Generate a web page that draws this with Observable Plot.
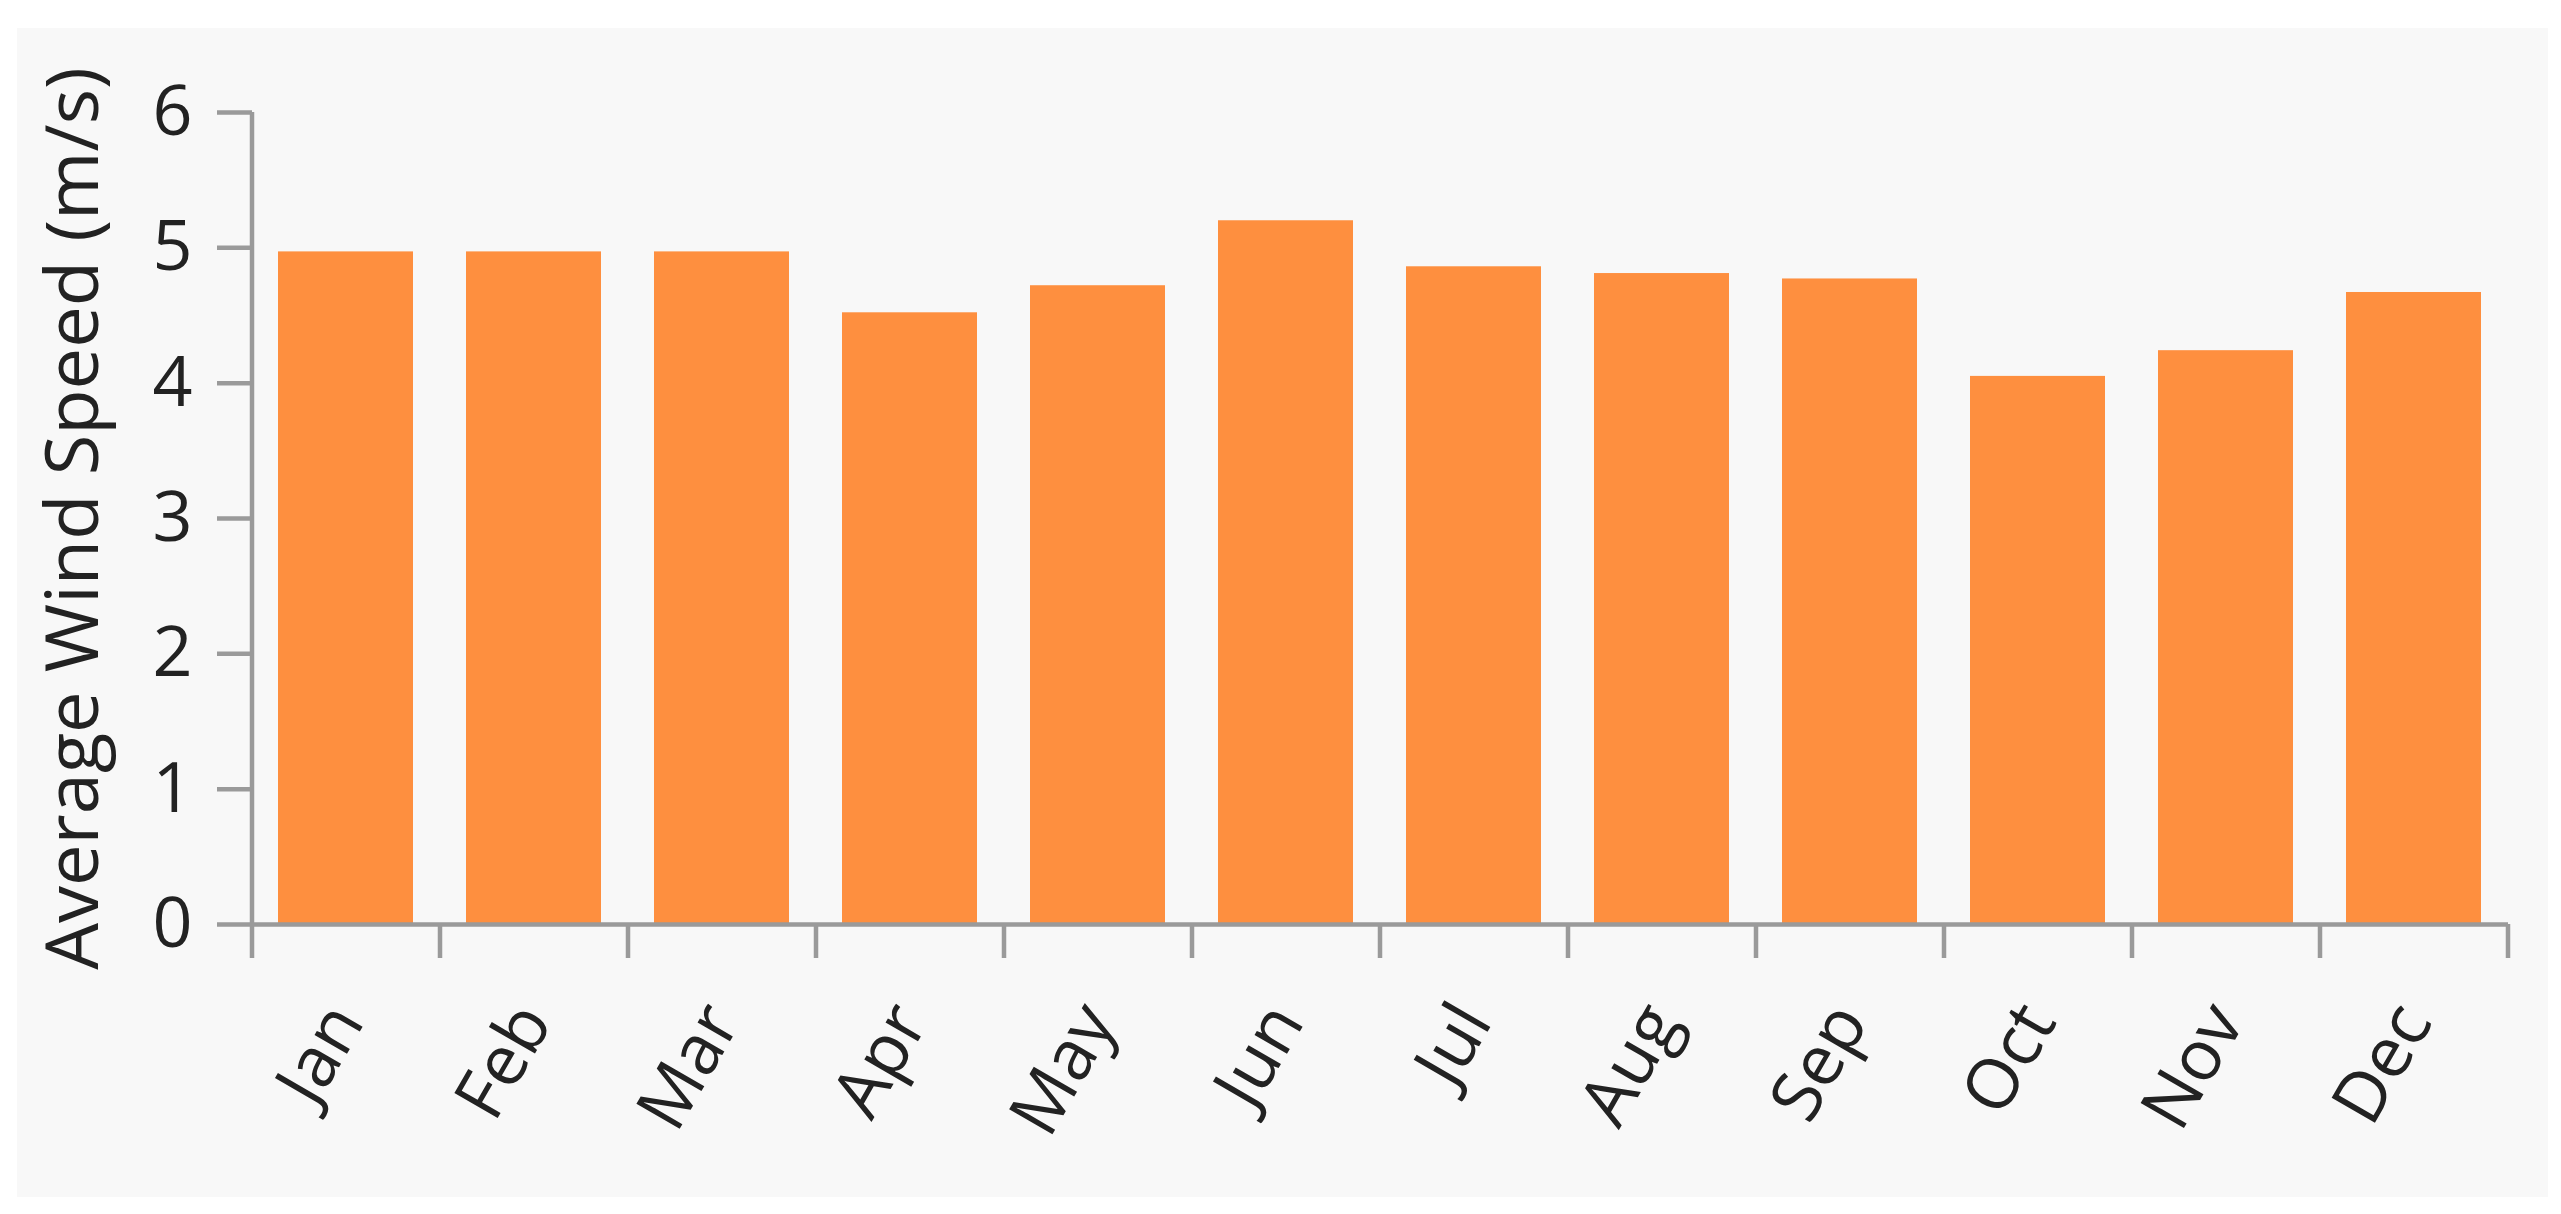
<!DOCTYPE html>
<html>
<head>
<meta charset="utf-8">
<script src="https://cdn.jsdelivr.net/npm/d3@7"></script>
<script src="https://cdn.jsdelivr.net/npm/@observablehq/plot@0.6"></script>
<style>
  html, body { margin: 0; padding: 0; background: #ffffff; }
  #chart { position: absolute; left: 17px; top: 28px; }
  #chart svg { overflow: visible; }
</style>
</head>
<body>
<div id="chart"></div>
<script>
const months = ["Jan", "Feb", "Mar", "Apr", "May", "Jun", "Jul", "Aug", "Sep", "Oct", "Nov", "Dec"];
const windSpeed = [4.97, 4.97, 4.97, 4.52, 4.72, 5.20, 4.86, 4.81, 4.77, 4.05, 4.24, 4.67];
const yTicks = [0, 1, 2, 3, 4, 5, 6];
const yLabel = "Average Wind Speed (m/s)";

const data = months.map((m, i) => ({month: m, speed: windSpeed[i]}));

const W = 2531, H = 1169, ML = 235, MR = 40, MT = 84, MB = 273;
const step = (W - ML - MR) / months.length;
const axisColor = "#9a9a9a";
const textColor = "#222222";
const fs = 70;

const chart = Plot.plot({
  width: W,
  height: H,
  marginLeft: ML,
  marginRight: MR,
  marginTop: MT,
  marginBottom: MB,
  style: {background: "#f8f8f8", fontFamily: "'Open Sans', 'Noto Sans', sans-serif", color: textColor},
  x: {type: "band", domain: months, paddingInner: 0.28, paddingOuter: 0.14, axis: null},
  y: {domain: [0, 6], axis: null},
  marks: [
    Plot.barY(data, {x: "month", y: "speed", fill: "#fe8f3f"}),
    // y axis ticks + labels
    Plot.axisY(yTicks, {tickSize: 35, tickPadding: 25, tickFormat: d3.format("d"), stroke: axisColor, strokeWidth: 4.5, fill: textColor, fontSize: fs, label: null}),
    // y axis line
    Plot.ruleX([months[0]], {x: d => d, y1: 0, y2: 6, dx: -step / 2, stroke: axisColor, strokeWidth: 4.5}),
    // x axis line
    Plot.ruleY([0], {stroke: axisColor, strokeWidth: 4.5}),
    // band boundary ticks
    Plot.axisX(months, {tickSize: 34, fill: "none", stroke: axisColor, strokeWidth: 4.5, dx: -step / 2, label: null}),
    Plot.axisX([months[months.length - 1]], {tickSize: 34, fill: "none", stroke: axisColor, strokeWidth: 4.5, dx: step / 2, label: null}),
    // x tick labels
    Plot.text(months, {x: d => d, frameAnchor: "bottom", dy: 86, rotate: -60, textAnchor: "end", lineAnchor: "middle", fontSize: fs, fill: textColor}),
    // y axis title
    Plot.text([yLabel], {frameAnchor: "left", dx: -207, rotate: -90, textAnchor: "middle", lineAnchor: "top", fontSize: 74, fill: textColor})
  ]
});
document.getElementById("chart").appendChild(chart);
</script>
</body>
</html>
